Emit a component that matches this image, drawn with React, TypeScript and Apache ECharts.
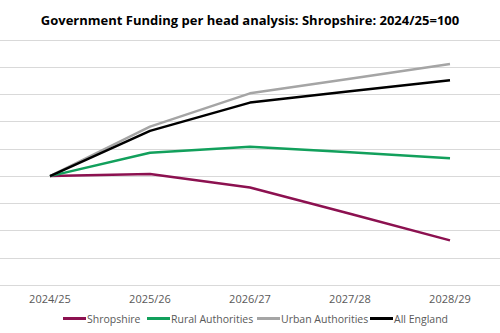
import React, { useEffect, useRef } from "react";
import * as echarts from "echarts";

const categories = ["2024/25", "2025/26", "2026/27", "2027/28", "2028/29"];
const seriesNames = ["Shropshire", "Rural Authorities", "Urban Authorities", "All England"];
const shropshire = [100, 100.4, 97.9, 93.1, 88.2];
const rural = [100, 104.3, 105.4, 104.4, 103.3];
const urban = [100, 109.1, 115.2, 117.9, 120.6];
const allEngland = [100, 108.3, 113.5, 115.6, 117.6];

const FONT = "'Open Sans', 'Liberation Sans', sans-serif";
const legendLefts = [63, 147, 257, 370];

export default function App() {
  const ref = useRef<HTMLDivElement>(null);
  useEffect(() => {
    document.body.style.margin = "0";
    if (!ref.current) return;
    const chart = echarts.init(ref.current, null, { renderer: "svg" });
    const colors = ["#8c1150", "#12a05c", "#a5a5a5", "#000000"];
    const values = [shropshire, rural, urban, allEngland];
    chart.setOption({
      animation: false,
      backgroundColor: "#ffffff",
      title: {
        text: "Government Funding per head analysis: Shropshire: 2024/25=100",
        left: "center",
        top: 8,
        textStyle: { fontFamily: FONT, fontWeight: "bold", fontSize: 13, color: "#000000" },
      },
      grid: { left: -2, right: -28, top: 40, bottom: 48 },
      xAxis: {
        type: "category",
        data: categories,
        boundaryGap: true,
        axisLine: { lineStyle: { color: "#d9d9d9", width: 1 } },
        axisTick: { show: false },
        axisLabel: { color: "#595959", fontFamily: FONT, fontSize: 11, margin: 8 },
      },
      yAxis: {
        type: "value",
        min: 80,
        max: 125,
        interval: 5,
        axisLabel: { show: false },
        axisLine: { show: false },
        axisTick: { show: false },
        splitLine: { lineStyle: { color: "#d9d9d9", width: 1 } },
      },
      legend: seriesNames.map((n, i) => ({
        top: 313,
        left: legendLefts[i],
        padding: 0,
        icon: "rect",
        itemWidth: 23,
        itemHeight: 3,
        textStyle: { color: "#595959", fontFamily: FONT, fontSize: 10.5, padding: [0, 0, 0, -4] },
        data: [n],
      })),
      series: seriesNames.map((n, i) => ({
        name: n,
        type: "line",
        data: values[i],
        symbol: "none",
        lineStyle: { color: colors[i], width: 2.5 },
        itemStyle: { color: colors[i] },
      })),
    });
    return () => chart.dispose();
  }, []);
  return <div ref={ref} style={{ width: 500, height: 333 }} />;
}
